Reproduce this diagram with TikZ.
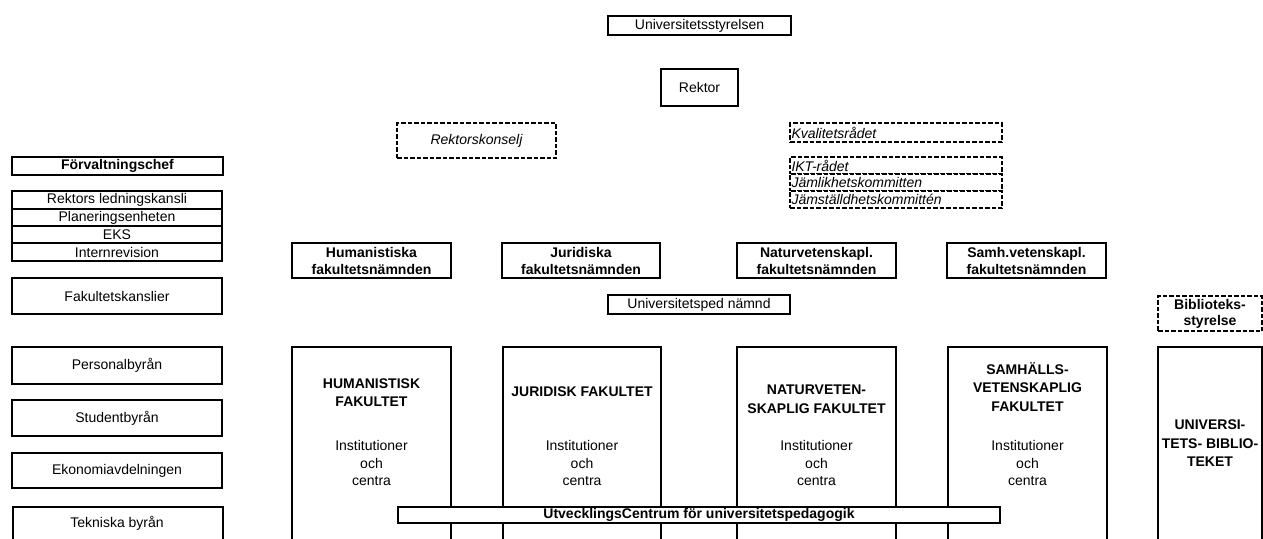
\documentclass[tikz,border=0pt]{standalone}
\usepackage{fontspec}
\setmainfont{Liberation Sans}
\usetikzlibrary{shadows}
\newcommand{\boxat}[7]{\node[#2, minimum width={(#5-#3)*1pt}, minimum height={(#6-#4)*1pt}] (#1) at ({(#3+#5)/2},{(#4+#6)/2}) {#7};}
\tikzset{
  fnt/.style={font=\fontsize{14}{17}\selectfont},
  bfnt/.style={font=\fontsize{14}{17}\selectfont\bfseries},
  ifnt/.style={font=\fontsize{14}{17}\selectfont\itshape},
  solidbox/.style={draw, line width=2.2pt, fill=white, inner sep=0pt, fnt, align=center,
    drop shadow={shadow xshift=0.9pt, shadow yshift=-0.9pt, opacity=1, fill=black}},
  dashbox/.style={draw, line width=1.9pt, dash pattern=on 4.5pt off 2pt, fill=white, inner sep=0pt, fnt, align=center},
  bigbox/.style={draw, line width=2.8pt, fill=white, inner sep=0pt},
  ttl/.style={align=center, inner sep=0pt, font=\fontsize{14}{18.5}\selectfont\bfseries},
  inst/.style={align=center, inner sep=0pt, font=\fontsize{14}{17.5}\selectfont},
}
\begin{document}
\begin{tikzpicture}[x=1pt,y=-1pt]
\useasboundingbox (0,0) rectangle (1263,538);
% top
\boxat{styr}{solidbox}{608}{16}{791}{35}{Universitetsstyrelsen}
\boxat{rektor}{solidbox}{661}{69}{738}{106}{Rektor}
\boxat{konselj}{dashbox, ifnt}{397}{123}{556}{158}{Rektorskonselj}
\boxat{kval}{dashbox, ifnt, align=left, text width=209pt}{790}{123}{1002}{142}{Kvalitetsrådet}
\boxat{ikt}{dashbox, ifnt, align=left, text width=209pt}{790}{157}{1002}{174}{IKT-rådet}
\boxat{jaml}{dashbox, ifnt, align=left, text width=209pt}{790}{174}{1002}{191}{Jämlikhetskommitten}
\boxat{jamst}{dashbox, ifnt, align=left, text width=209pt}{790}{191}{1002}{208}{Jämställdhetskommittén}
% left column
\boxat{forv}{solidbox, bfnt, line width=2.6pt}{12}{157}{223}{175}{Förvaltningschef}
\boxat{rlk}{solidbox}{12}{191}{222}{209}{Rektors ledningskansli}
\boxat{plan}{solidbox}{12}{209}{222}{226}{Planeringsenheten}
\boxat{eks}{solidbox}{12}{226}{222}{243}{EKS}
\boxat{intern}{solidbox}{12}{243}{222}{261}{Internrevision}
\boxat{fakk}{solidbox}{12}{278}{222}{314}{Fakultetskanslier}
\boxat{pers}{solidbox}{12}{347}{222}{384}{Personalbyrån}
\boxat{stud}{solidbox}{12}{400}{222}{436}{Studentbyrån}
\boxat{ekon}{solidbox}{12}{453}{222}{488}{Ekonomiavdelningen}
\node[solidbox, minimum width=210pt, minimum height=60pt, anchor=north west] (tekn) at (12,506) {};
\node[fnt, inner sep=0pt] (tekntxt) at (117,523) {Tekniska byrån};
% faculty boards
\boxat{humn}{solidbox, bfnt}{292}{243}{451}{278}{Humanistiska\\fakultetsnämnden}
\boxat{jurn}{solidbox, bfnt}{502}{243}{660}{278}{Juridiska\\fakultetsnämnden}
\boxat{natn}{solidbox, bfnt}{737}{243}{896}{278}{Naturvetenskapl.\\fakultetsnämnden}
\boxat{samn}{solidbox, bfnt}{947}{243}{1106}{278}{Samh.vetenskapl.\\fakultetsnämnden}
\boxat{uped}{solidbox}{608}{295}{790}{314}{Universitetsped nämnd}
\boxat{bibst}{dashbox, font=\fontsize{14}{16}\selectfont\bfseries}{1158}{296}{1262}{331}{Biblioteks-\\styrelse}
% faculties
\boxat{hum}{bigbox}{292}{347}{451}{580}{}
\boxat{jur}{bigbox}{503}{347}{661}{580}{}
\boxat{nat}{bigbox}{737}{347}{896}{580}{}
\boxat{sam}{bigbox}{948}{347}{1107}{580}{}
\boxat{bib}{bigbox}{1158}{347}{1262}{580}{}
\node[ttl] (humt) at (371.5,392.5) {HUMANISTISK\\FAKULTET};
\node[ttl] (jurt) at (582,392) {JURIDISK FAKULTET};
\node[ttl] (natt) at (816.5,399) {NATURVETEN-\\SKAPLIG FAKULTET};
\node[ttl] (samt) at (1027.5,387) {SAMHÄLLS-\\VETENSKAPLIG\\FAKULTET};
\node[ttl] (bibt) at (1210,443.5) {UNIVERSI-\\TETS- BIBLIO-\\TEKET};
\node[inst] (humi) at (371.5,463) {Institutioner\\och\\centra};
\node[inst] (juri) at (582,463) {Institutioner\\och\\centra};
\node[inst] (nati) at (816.5,463) {Institutioner\\och\\centra};
\node[inst] (sami) at (1027.5,463) {Institutioner\\och\\centra};
% UC
\boxat{utv}{solidbox, bfnt}{398}{507}{1000}{523}{UtvecklingsCentrum för universitetspedagogik}
\end{tikzpicture}
\end{document}
